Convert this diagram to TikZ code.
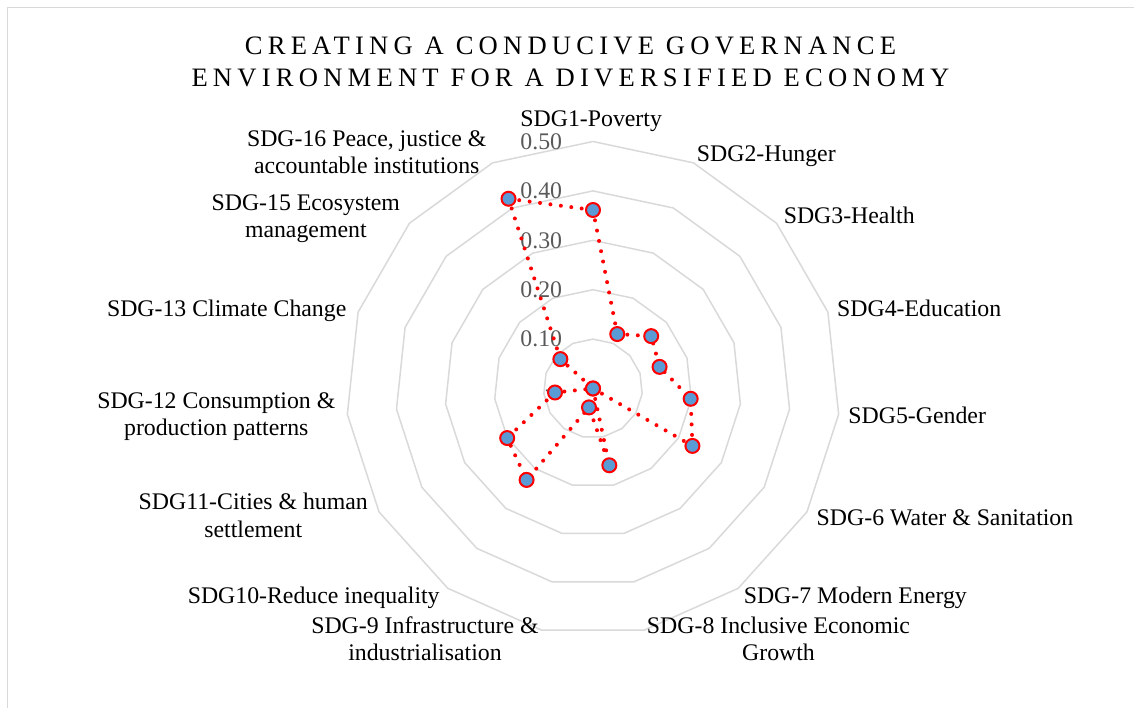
\documentclass[tikz,border=0pt]{standalone}
\usepackage{fontspec}
\setmainfont{Liberation Serif}
\newfontfamily\titlefont[LetterSpace=19.6]{Liberation Serif}
\definecolor{ringgray}{HTML}{D9D9D9}
\definecolor{axgray}{HTML}{595959}
\definecolor{mblue}{HTML}{5B9BD5}
\definecolor{sred}{HTML}{FF0000}
\begin{document}
\begin{tikzpicture}[x=1pt,y=1pt,
  frame/.style={draw=ringgray, line width=1.3pt},
  ring/.style={draw=ringgray, line width=1.5pt, line join=round},
  axlbl/.style={text=axgray, inner sep=0pt, anchor=east, font=\fontsize{23.8}{27}\selectfont},
  cat/.style={inner sep=0pt, anchor=base, align=center, text=black, font=\fontsize{23.8}{27.2}\selectfont},
  ttl/.style={inner sep=0pt, anchor=base, align=center, text=black, font=\titlefont\fontsize{26.6}{31.7}\selectfont},
  series/.style={draw=sred, line width=4pt, line cap=round, line join=round, dash pattern=on 0pt off 10.5pt},
  marker/.style={circle, fill=mblue, draw=sred, line width=2pt, minimum size=14pt, inner sep=0pt}]
\useasboundingbox (0,0) rectangle (1134,-707);
\draw[frame] (7.5,-710) -- (7.5,-7.5) -- (1140,-7.5);
% title (base anchor = baseline of the last line)
\node[ttl] (title) at (570.5,-86) {CREATING A CONDUCIVE GOVERNANCE\\ENVIRONMENT FOR A DIVERSIFIED ECONOMY};
\begin{scope}[shift={(593,-388.5)}]
  \foreach \k in {1,...,5}{
    \draw[ring] (90:{\k*49.4}) \foreach \i in {1,...,14}{ -- ({90-24*\i}:{\k*49.4})} -- cycle;
  }
  \node[axlbl] (a1) at (-30.7,49.4) {0.10};
  \node[axlbl] (a2) at (-30.7,98.8) {0.20};
  \node[axlbl] (a3) at (-30.7,148.2) {0.30};
  \node[axlbl] (a4) at (-30.7,197.6) {0.40};
  \node[axlbl] (a5) at (-30.7,247) {0.50};
  \node[inner sep=0pt, anchor=base, text=axgray, font=\fontsize{23.8}{27}\selectfont] (a0) at (-44,-8) {-};
  % data
  \coordinate (c1) at (90:178.5);
  \coordinate (c2) at (66:59.6);
  \coordinate (c3) at (42:78.3);
  \coordinate (c4) at (18:70);
  \coordinate (c5) at (-6:98.2);
  \coordinate (c6) at (-30:114.8);
  \coordinate (c7) at (0,0);
  \coordinate (c8) at (-78:78.5);
  \coordinate (c9) at (-102:19.3);
  \coordinate (c10) at (-126:113);
  \coordinate (c11) at (-150:99.1);
  \coordinate (c12) at (-174:38.2);
  \coordinate (c13) at (0,0);
  \coordinate (c15) at (138:43.9);
  \coordinate (c16) at (114:207.7);
  \draw[series] (c1) -- (c2) -- (c3) -- (c4) -- (c5) -- (c6) -- (c7) -- (c8) -- (c9) -- (c10) -- (c11) -- (c12) -- (c13) -- (c15) -- (c16) -- cycle;
  \foreach \n in {1,...,13,15,16}{
    \node[marker] (m\n) at (c\n) {};
  }
\end{scope}
% category labels (two-line labels anchored at the baseline of their last line)
\node[cat] (l1) at (591.2,-126) {SDG1-Poverty};
\node[cat] (l2) at (766.3,-161.7) {SDG2-Hunger};
\node[cat] (l3) at (849.2,-223.3) {SDG3-Health};
\node[cat] (l4) at (919.2,-316.7) {SDG4-Education};
\node[cat] (l5) at (917.2,-423.3) {SDG5-Gender};
\node[cat] (l6) at (945,-525) {SDG-6 Water \& Sanitation};
\node[cat] (l7) at (855.3,-603.3) {SDG-7 Modern Energy};
\node[cat] (l8) at (778.5,-660.5) {SDG-8 Inclusive Economic\\Growth};
\node[cat] (l9) at (425,-660.5) {SDG-9 Infrastructure \&\\industrialisation};
\node[cat] (l10) at (313.7,-603.3) {SDG10-Reduce inequality};
\node[cat] (l11) at (253.3,-537) {SDG11-Cities \& human\\settlement};
\node[cat] (l12) at (216.3,-435.3) {SDG-12 Consumption \&\\production patterns};
\node[cat] (l13) at (226.7,-316) {SDG-13 Climate Change};
\node[cat] (l15) at (305.8,-237.2) {SDG-15 Ecosystem\\management};
\node[cat] (l16) at (366.7,-173.9) {SDG-16 Peace, justice \&\\accountable institutions};
\end{tikzpicture}
\end{document}
